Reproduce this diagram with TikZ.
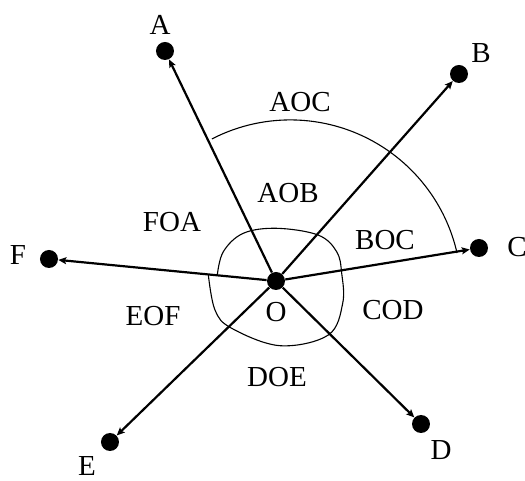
\documentclass[tikz,border=0pt]{standalone}
\usepackage{fontspec}
\setmainfont{Liberation Serif}
\usetikzlibrary{positioning,arrows.meta}
\tikzset{
  pnt/.style={circle, fill=black, minimum size=9pt, inner sep=0pt},
  vec/.style={-{Stealth[length=4pt, width=3.5pt, inset=0.8pt]}, line width=1.1pt},
  lbl/.style={inner sep=0pt, font=\fontsize{14.5}{17}\selectfont},
  ang/.style={line width=0.55pt}
}

\begin{document}
\begin{tikzpicture}[x=0.5pt, y=0.5pt]
        \useasboundingbox (-276,-200) rectangle (249,281);
        \node[pnt] (o) at (0,0) {};
        \node[pnt] (a) at (-111,230) {};
        \node[pnt] (b) at (183,207) {};
        \node[pnt] (c) at (203,33) {};
        \node[pnt] (d) at (145,-143) {};
        \node[pnt] (e) at (-166,-161) {};
        \node[pnt] (f) at (-227,22) {};
        \draw[vec] (o) -- (a); \draw[vec] (o) -- (b); \draw[vec] (o) -- (c);
        \draw[vec] (o) -- (d); \draw[vec] (o) -- (e); \draw[vec] (o) -- (f);
        \node[lbl] (la) at (-116,256) {A};
        \node[lbl] (lb) at (205,228) {B};
        \node[lbl] (lc) at (241,34) {C};
        \node[lbl] (ld) at (165,-169) {D};
        \node[lbl] (le) at (-189,-185) {E};
        \node[lbl] (lf) at (-258,26) {F};
        \node[lbl] (lo) at (0,-31) {O};
        % angle marks
        \draw[ang] (14.3,-9.9) ++(117.3:171) arc[start angle=117.3, end angle=12.8, radius=171];
        \draw[ang] plot[smooth, tension=0.6] coordinates {(-58.7,5.7) (-52.7,29.3) (-32.7,47.7)
          (0.7,52.7) (42,46) (60.7,29.3) (65.7,7.7) (66.7,-22.3) (52.3,-54) (4,-64.7)
          (-44.3,-47.3) (-61,-29) (-67.7,6.6)};
        \node[lbl] (aoc) at (24,179) {AOC};
        \node[lbl] (aob) at (12,88) {AOB};
        \node[lbl] (foa) at (-104,59) {FOA};
        \node[lbl] (boc) at (109,41) {BOC};
        \node[lbl] (cod) at (117,-29) {COD};
        \node[lbl] (eof) at (-123,-35) {EOF};
        \node[lbl] (doe) at (1,-96) {DOE};
      \end{tikzpicture}
\end{document}
